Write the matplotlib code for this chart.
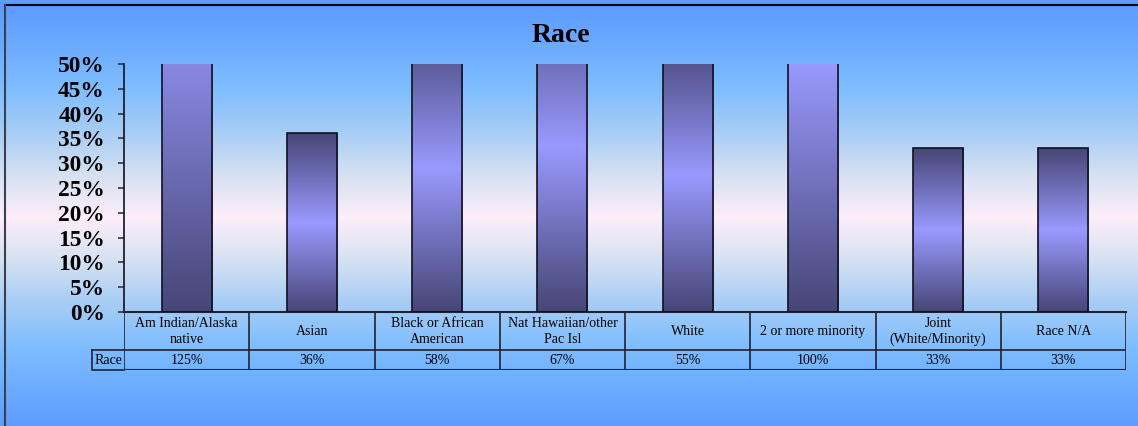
import numpy as np
import matplotlib
matplotlib.use("Agg")
import matplotlib.pyplot as plt
from matplotlib.lines import Line2D

# Data
categories = ["Am Indian/Alaska\nnative", "Asian", "Black or African\nAmerican",
              "Nat Hawaiian/other\nPac Isl", "White", "2 or more minority",
              "Joint\n(White/Minority)", "Race N/A"]
race_pct = [125, 36, 58, 67, 55, 100, 33, 33]
value_labels = ["125%", "36%", "58%", "67%", "55%", "100%", "33%", "33%"]
series_name = "Race"
y_ticks = [0, 5, 10, 15, 20, 25, 30, 35, 40, 45, 50]

W, H = 1138, 426
fig = plt.figure(figsize=(W / 100, H / 100), dpi=100)
serif = ["Liberation Serif", "DejaVu Serif"]


def fx(px):
    return px / W


def fy(py):
    return 1 - py / H


# ---- background: mirrored blue -> pink -> blue gradient ----
bg_ax = fig.add_axes([0, 0, 1, 1], zorder=0)
bg_ax.set_axis_off()
stops_d = np.array([0.0, 0.2, 0.4, 0.6, 0.8, 1.0])
stops_c = np.array([[253, 238, 250], [214, 225, 242], [168, 205, 245],
                    [128, 190, 255], [108, 172, 255], [93, 155, 255]]) / 255.0
ys = np.arange(H)
d = np.clip(np.abs(ys - 217) / 212.0, 0, 1)
col = np.stack([np.interp(d, stops_d, stops_c[:, k]) for k in range(3)], axis=1)
grad = np.repeat(col[:, None, :], 8, axis=1)
bg_ax.imshow(grad, aspect="auto", extent=[0, 1, 0, 1], origin="upper")
bg_ax.set_xlim(0, 1)
bg_ax.set_ylim(0, 1)

# frame lines (top and left)
fig.add_artist(Line2D([fx(5), 1], [fy(5), fy(5)], color="black", lw=1.5,
                      transform=fig.transFigure, zorder=5))
fig.add_artist(Line2D([fx(5), fx(5)], [fy(5), 0], color="#3a4050", lw=1.5,
                      transform=fig.transFigure, zorder=5))

# ---- main bar axes ----
left, right, top, bottom = 124, 1126, 64, 312
ax = fig.add_axes([fx(left), fy(bottom), fx(right - left), (bottom - top) / H], zorder=2)
ax.patch.set_alpha(0)
n = len(categories)
x = np.arange(n)
ymax = 50

dark = np.array([70, 70, 118]) / 255.0
light = np.array([153, 153, 255]) / 255.0
bw = 0.4
for xi, v in zip(x, race_pct):
    # gradient runs dark -> light -> dark over the full bar value,
    # only the part inside the visible range is painted
    vis = min(v, ymax)
    yy = np.linspace(0, vis, 400)
    tt = yy / v
    w = 1 - np.abs(2 * tt - 1)
    cols = dark[None, :] * (1 - w[:, None]) + light[None, :] * w[:, None]
    img = np.repeat(cols[:, None, :], 2, axis=1)
    ax.imshow(img, extent=[xi - bw / 2, xi + bw / 2, 0, vis], origin="lower",
              aspect="auto", zorder=2, interpolation="bilinear")
ax.bar(x, race_pct, width=bw, fill=False, edgecolor="#111122", linewidth=1.2, zorder=3)
ax.set_xlim(-0.5, n - 0.5)
ax.set_ylim(0, ymax)

for s in ["top", "right"]:
    ax.spines[s].set_visible(False)
ax.spines["left"].set_color("#111122")
ax.spines["bottom"].set_color("#222233")
ax.spines["left"].set_linewidth(1.2)
ax.spines["bottom"].set_linewidth(1.5)
ax.set_xticks([])
ax.set_yticks(y_ticks)
ax.set_yticklabels([f"{v}%" for v in y_ticks])
ax.tick_params(axis="y", length=4.3, width=1.2, color="#333344", pad=9.5)
for lab in ax.get_yticklabels():
    lab.set_fontfamily(serif)
    lab.set_fontweight("bold")
    lab.set_fontsize(16.8)

fig.text(fx(561), fy(36), "Race", ha="center", va="center", fontsize=20,
         fontweight="bold", family=serif)

# ---- data table under the axis ----
tb = fig.add_axes([fx(left), fy(370), fx(right - left), 58 / H], zorder=3)
tb.patch.set_alpha(0)
tb.set_axis_off()
tb.set_xlim(-0.5, n - 0.5)
tb.set_ylim(58, 0)
lc = "#222233"
tb.plot([-0.5, n - 0.5], [38, 38], color=lc, lw=1.2)
tb.plot([-0.5, n - 0.5], [58, 58], color=lc, lw=1.5)
for i in range(n + 1):
    tb.plot([i - 0.5, i - 0.5], [0, 58], color=lc, lw=1.2)
lab_w = 32 / ((right - left) / n)
tb.plot([-0.5 - lab_w, -0.5 - lab_w, -0.5], [38, 58, 58], color=lc, lw=1.2, clip_on=False)
tb.plot([-0.5 - lab_w, -0.5], [38, 38], color=lc, lw=1.2, clip_on=False)
tb.text(-0.5 - lab_w / 2, 48, series_name, ha="center", va="center", fontsize=10,
        family=serif, clip_on=False)
for xi, name, val in zip(x, categories, value_labels):
    tb.text(xi, 19.5, name, ha="center", va="center", fontsize=10, family=serif,
            linespacing=1.3)
    tb.text(xi, 48.5, val, ha="center", va="center", fontsize=10, family=serif)

fig.savefig("out.png", dpi=100)
